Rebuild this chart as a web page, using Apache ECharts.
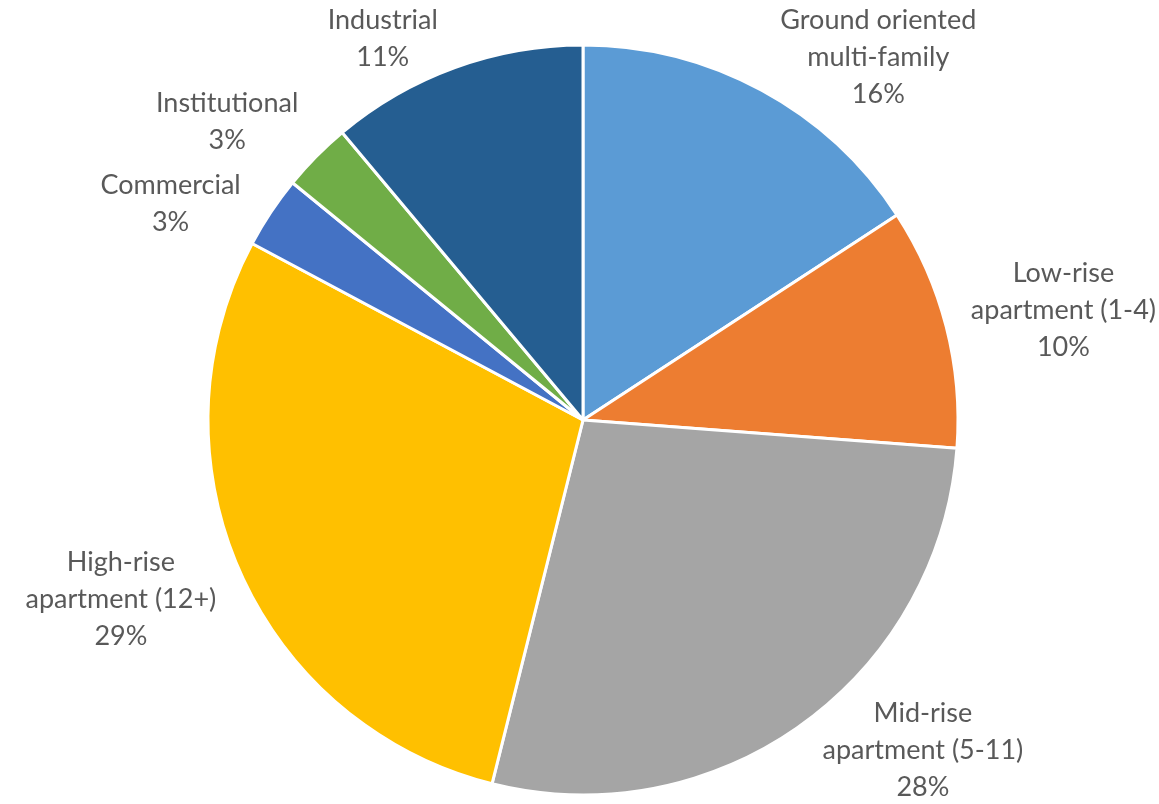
<!DOCTYPE html>
<html>
<head>
<meta charset="utf-8">
<script src="https://cdn.jsdelivr.net/npm/echarts@6/dist/echarts.min.js"></script>
<style>
html,body{margin:0;padding:0;background:#fff;}
#chart{width:1159px;height:804px;}
</style>
</head>
<body>
<div id="chart"></div>
<script>
const categories = [
  "Ground oriented\nmulti-family",
  "Low-rise\napartment (1-4)",
  "Mid-rise\napartment (5-11)",
  "High-rise\napartment (12+)",
  "Commercial",
  "Institutional",
  "Industrial"
];
const values = [15.8, 10.4, 27.7, 28.9, 3.1, 3.0, 11.1];
const colors = ["#5B9BD5", "#ED7D31", "#A5A5A5", "#FFC000", "#4472C4", "#70AD47", "#255E91"];

const VIEW_H = 804;
const total = values.reduce((a, b) => a + b, 0);
const midAngles = [];
(function () {
  let acc = 0;
  values.forEach(v => { midAngles.push((acc + v / 2) / total * 2 * Math.PI); acc += v; });
})();

const chart = echarts.init(document.getElementById('chart'), null, {renderer: 'canvas'});
chart.setOption({
  animation: false,
  backgroundColor: '#ffffff',
  series: [{
    type: 'pie',
    center: [583, 420],
    radius: [0, 375],
    startAngle: 90,
    clockwise: true,
    data: categories.map((c, i) => ({name: c, value: values[i], itemStyle: {color: colors[i]}})),
    itemStyle: {borderColor: '#ffffff', borderWidth: 3},
    label: {
      show: true,
      position: 'outside',
      formatter: p => p.name + '\n' + Math.round(p.percent) + '%',
      color: '#595959',
      fontFamily: 'Lato',
      fontSize: 27,
      lineHeight: 37,
      overflow: 'none',
      edgeDistance: 0
    },
    labelLine: {show: false, length: 12, length2: 8},
    labelLayout: function (params) {
      const r = params.labelRect;
      const h = r.height / 2;
      const uy = -Math.cos(midAngles[params.dataIndex]);
      let y = r.y + h + uy * h;
      y = Math.max(h + 2, Math.min(VIEW_H - h + 2, y));
      return {x: r.x + r.width / 2, y: y, align: 'center', verticalAlign: 'middle'};
    },
    emphasis: {disabled: true}
  }]
});
</script>
</body>
</html>
